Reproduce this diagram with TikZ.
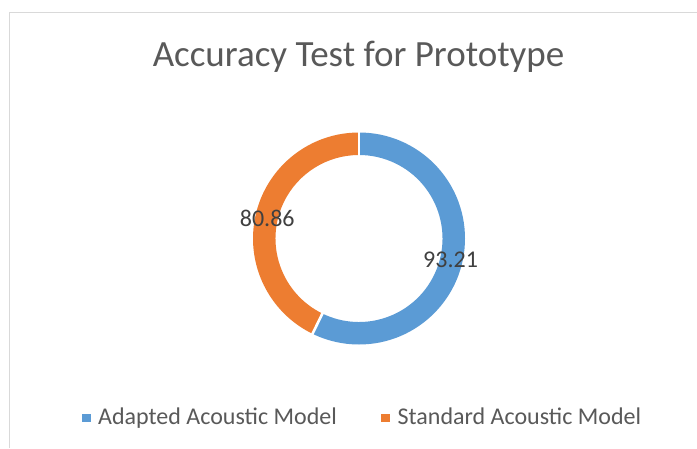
\documentclass[tikz,border=0pt]{standalone}
\usepackage{fontspec}
\setmainfont{Carlito}
\usetikzlibrary{calc}
\definecolor{adapted}{HTML}{5B9BD5}
\definecolor{standard}{HTML}{ED7D31}
\definecolor{frame}{HTML}{D9D9D9}
\definecolor{chartText}{HTML}{595959}
\definecolor{labelText}{HTML}{404040}
\tikzset{
  charttitle/.style={inner sep=0pt, anchor=base, text=chartText, font=\fontsize{37}{44}\selectfont},
  datalabel/.style={inner sep=0pt, text=labelText, font=\fontsize{24}{28}\selectfont},
  legendtext/.style={inner sep=0pt, anchor=base west, text=chartText, font=\fontsize{24}{28}\selectfont},
  legendkey/.style={minimum size=8.5pt, inner sep=0pt, draw=none},
  separator/.style={white, line width=2.6pt},
}
\begin{document}
\begin{tikzpicture}[x=1pt, y=1pt]
  \useasboundingbox (0,0) rectangle (697,448);
  \fill[white] (0,0) rectangle (697,448);
  % chart area frame (runs off the right and bottom edges)
  \draw[frame, line width=1.6pt] (9.5,0) -- (9.5,435.5) -- (697,435.5);

  % title
  \node[charttitle] (title) at (358.5,381.3) {Accuracy Test for Prototype};

  % doughnut ring
  \coordinate (c) at (359,209.5);
  \def\Rout{106}
  \def\Rin{83.5}
  \def\cut{-116}
  \fill[adapted] ($(c)+(90:\Rout)$) arc[start angle=90, end angle=\cut, radius=\Rout]
     -- ($(c)+(\cut:\Rin)$) arc[start angle=\cut, end angle=90, radius=\Rin] -- cycle;
  \fill[standard] ($(c)+(90:\Rout)$) arc[start angle=90, end angle=360+\cut, radius=\Rout]
     -- ($(c)+(\cut:\Rin)$) arc[start angle=360+\cut, end angle=90, radius=\Rin] -- cycle;
  \draw[separator] ($(c)+(90:\Rin-1)$) -- ($(c)+(90:\Rout+1)$);
  \draw[separator] ($(c)+(\cut:\Rin-1)$) -- ($(c)+(\cut:\Rout+1)$);

  % data labels
  \node[datalabel] (lblA) at ($(c)+(-13:94)$) {93.21};
  \node[datalabel] (lblS) at ($(c)+(167.5:94)$) {80.86};

  % legend
  \node[legendkey, fill=adapted] (keyA) at (86.5,30.2) {};
  \node[legendtext] (legA) at (98,24) {Adapted Acoustic Model};
  \node[legendkey, fill=standard] (keyS) at (385.3,30.2) {};
  \node[legendtext] (legS) at (397.5,24) {Standard Acoustic Model};
\end{tikzpicture}
\end{document}
